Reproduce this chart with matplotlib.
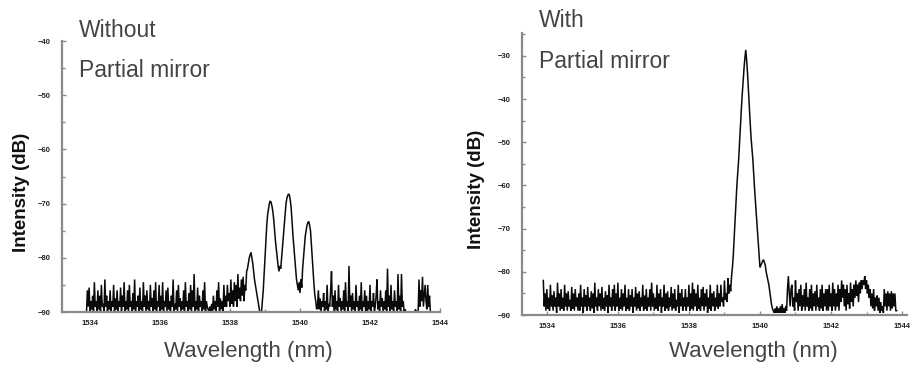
import numpy as np
import matplotlib
matplotlib.use("Agg")
import matplotlib.pyplot as plt
from matplotlib.ticker import MultipleLocator

plt.rcParams["font.family"] = ["Liberation Sans", "DejaVu Sans"]

# ---------------------------------------------------------------------------
# Data (0.025 nm sampling, one row = 1 nm)
# ---------------------------------------------------------------------------
WL_START = 1533.900
WL_STEP = 0.025

# without partial mirror
without_db = [
    -90, -86, -89, -85.5, -90, -88, -89.5, -87, -90, -84.5, -89, -88, -90, -86, -89.5, -87, -90, -85, -89, -88.5,
    -90, -84, -89, -87, -90, -88, -89.5, -86, -90, -88, -89, -85, -90, -87.5, -89.5, -86, -90, -88, -89, -85.5,
    -90, -87, -89, -84.5, -90, -88, -89.5, -86, -90, -85, -89, -88, -90, -86.5, -89.5, -84, -90, -88, -89, -87,
    -90, -85.5, -89.5, -88, -90, -84.5, -89, -87, -90, -86, -89.5, -88, -90, -85, -89, -87.5, -90, -86, -89.5, -84.5,
    -90, -88, -89, -85, -90, -87, -89.5, -84.5, -90, -88, -89, -86, -90, -85.5, -89.5, -88, -90, -87, -89, -84,
    -90, -88.5, -89.5, -86, -90, -85, -89, -87.5, -90, -88, -89.5, -86, -90, -84.5, -89, -88, -90, -86.5, -89.5, -85,
    -90, -86, -89, -83, -90, -88, -89.5, -85.5, -90, -87, -89, -88, -90, -86, -89.5, -84.5, -90, -88, -89, -89.5,
    -90, -89, -90, -88.5, -90, -87, -89.5, -88, -90, -86, -89, -84.5, -90, -87.5, -89.5, -88, -90, -85, -89, -87,
    -89, -85, -88, -86.5, -89, -84, -88.5, -86, -89, -84.5, -88, -85, -89, -83, -87.5, -85.5, -88, -84, -87, -83.5,
    -88, -85, -86, -82.5, -82, -81, -80, -79.5, -79, -80, -81, -82.5, -84, -85, -86, -87, -88, -89, -90, -90,
    -90, -88, -86, -83, -80, -77, -74, -72, -71, -70, -69.5, -69.8, -70.5, -71.5, -73, -75, -77, -78.5, -80, -81.5,
    -82.5, -81.5, -82, -80, -78, -76, -74, -72, -70, -69, -68.5, -68.2, -68.5, -69.5, -71, -73.5, -76, -78, -80, -82,
    -84, -85, -86, -84.5, -86.5, -84, -85.5, -82, -80, -78, -76, -75, -74, -73.5, -73.3, -74, -75, -77.5, -80, -82.5,
    -85, -87, -88, -89.5, -89, -86, -89.5, -87.5, -90, -88, -89, -86.5, -90, -88, -89.5, -85, -90, -88.5, -89, -86,
    -82.5, -89, -87, -90, -86, -89.5, -88, -90, -85, -89, -87.5, -90, -88, -89.5, -86, -90, -84.5, -89, -88, -90,
    -81.5, -89, -87, -90, -86.5, -89.5, -88, -90, -85, -89, -88, -90, -87, -89.5, -84.5, -90, -88, -89, -86, -90,
    -87, -90, -88, -89.5, -85, -90, -88, -89, -86.5, -90, -89, -87, -84, -89.5, -88, -90, -86, -89, -87.5, -90,
    -88, -89.5, -86, -90, -82, -89, -87, -90, -85, -89.5, -88, -90, -86, -89, -88, -90, -83, -89.5, -87, -90,
    -83, -89, -88, -90, -89.5, -90, -90, -90, -90, -90, -90, -90, -90, -90, -90, -90, -89.5, -90, -90, -90,
    -84, -89, -86, -88, -83.5, -89, -87, -85, -88, -89.5, -85, -89, -87, -90, -90,
]

# with partial mirror
with_db = [
    -82, -88, -85, -89, -84, -88.5, -86, -89, -83, -88, -85.5, -89, -84.5, -88, -86, -89.5, -82.5, -88, -85, -89,
    -84, -88.5, -86, -89, -83, -88, -85, -89, -84.5, -88, -86.5, -89, -83.5, -88.5, -85, -89, -84, -88, -86, -89,
    -85, -89, -83, -88, -86, -89.5, -84, -88, -85.5, -89, -83.5, -88, -86, -89, -84.5, -88.5, -85, -89.5, -82.5, -88,
    -86, -89, -84, -88, -85, -89, -83.5, -88.5, -86, -89, -84.5, -88, -85.5, -89.5, -83, -88, -86, -89, -84, -88,
    -83, -89, -85, -88, -82.5, -89, -86, -88.5, -84, -89, -85, -88, -83, -89, -86, -88.5, -84, -89, -85.5, -88,
    -84, -89.5, -86, -88, -83.5, -89, -85, -88.5, -84.5, -89, -86, -88, -83, -89, -85.5, -88.5, -84, -89, -86, -88,
    -84, -89, -82.5, -88, -85, -89, -86, -88.5, -83, -89, -85, -88, -84, -89.5, -86, -88, -83, -89, -85, -88.5,
    -84.5, -89, -86, -88, -83.5, -89, -85, -88.5, -84, -89, -86.5, -88, -83, -89.5, -85, -88, -84, -89, -86, -88,
    -84, -89, -86, -88, -83, -89, -85, -88.5, -82.5, -89, -84, -88, -85, -89, -83, -88.5, -86, -89, -84, -88,
    -83.5, -89, -85, -88, -84, -89.5, -86, -88.5, -83, -89, -85, -88, -84.5, -89, -86, -88, -83, -88.5, -85, -88,
    -83, -87, -86, -88, -82, -86.5, -85, -87, -81.5, -85, -83, -84.5, -81, -79, -76, -72, -68, -64, -60, -57,
    -54, -50, -46, -42.5, -39, -36, -33, -30.5, -28.6, -31, -34, -38, -42, -45.5, -49, -51.5, -54, -57.5, -61, -64,
    -67, -70, -73, -76, -79, -78.5, -78, -77.5, -77.2, -77.8, -78.5, -80, -81, -82, -83, -84.5, -86, -87.5, -88.5, -89,
    -89.5, -88.5, -89.5, -88, -89.5, -88.5, -89.5, -88, -89.5, -87.5, -89.5, -88.5, -89.5, -88, -89, -84, -81, -85, -88, -84,
    -83, -88, -86, -89, -82, -87, -85, -89, -84, -88, -83, -89, -85.5, -88, -84, -89, -82.5, -88, -86, -89,
    -84, -88.5, -83, -89, -85, -88, -84.5, -89, -83, -88, -86, -89, -84, -88.5, -83, -89, -85, -88, -84, -89,
    -84, -89, -83, -88, -85, -89, -82.5, -88, -84, -89, -85, -88, -83, -89, -84, -87, -82, -86, -83, -88,
    -84, -89, -83, -87.5, -85, -88.5, -82.5, -87, -84, -88, -83, -86, -82, -85.5, -83, -87, -82.5, -85, -82, -84,
    -82, -83, -81, -84, -82, -85, -83, -86, -84, -88, -85, -88.5, -84, -89, -86, -88, -85.5, -89, -86, -89.5,
    -87, -89, -88, -89.5, -84, -88, -85, -89, -84.5, -88, -85, -89, -84.5, -88.5, -85, -88, -85, -89, -89,
]

PANELS = [
    # label lines, data, ylim, xlim, axes rect (fig fraction)
    (["Without", "Partial mirror"], without_db, (-90, -40), (1533.2, 1544.0),
     [62 / 920, 55 / 367, 378 / 920, 271 / 367]),
    (["With", "Partial mirror"], with_db, (-90, -24.7), (1533.3, 1544.14),
     [522 / 920, 52 / 367, 385 / 920, 282 / 367]),
]

TEXT_GREY = "#444444"
SPINE_GREY = "#8a8a8a"

fig = plt.figure(figsize=(9.2, 3.67), dpi=100)

for i, (lines, db, ylim, xlim, rect) in enumerate(PANELS):
    ax = fig.add_axes(rect)
    wl = WL_START + WL_STEP * np.arange(len(db))
    ax.plot(wl, db, color="#0a0a0a", lw=1.1, solid_joinstyle="miter")

    ax.set_xlim(*xlim)
    ax.set_ylim(*ylim)
    ax.xaxis.set_major_locator(MultipleLocator(2))
    ax.xaxis.set_minor_locator(MultipleLocator(1))
    ax.yaxis.set_major_locator(MultipleLocator(10))
    ax.yaxis.set_minor_locator(MultipleLocator(5))

    for side in ("top", "right"):
        ax.spines[side].set_visible(False)
    for side in ("left", "bottom"):
        ax.spines[side].set_color(SPINE_GREY)
        ax.spines[side].set_linewidth(1.6)
        ax.spines[side].set_zorder(3)

    ax.tick_params(which="both", direction="in", color=SPINE_GREY, width=1.0)
    ax.tick_params(which="major", length=3)
    ax.tick_params(which="minor", length=2)
    ax.tick_params(axis="y", pad=8, labelsize=5.5, labelcolor="#222222")
    ax.tick_params(axis="x", pad=6, labelsize=5.5, labelcolor="#222222")
    for lab in ax.get_xticklabels() + ax.get_yticklabels():
        lab.set_fontweight("bold")

    # panel annotation
    x0 = rect[0] * 920 + 17
    ys = (37, 77) if i == 0 else (27, 68)
    for txt, yb in zip(lines, ys):
        fig.text(x0 / 920, 1 - yb / 367, txt, fontsize=16.5, color=TEXT_GREY,
                 ha="left", va="baseline")

    # axis labels
    ylx = 22 if i == 0 else 477
    yly = 192 if i == 0 else 189
    fig.text(ylx / 920, 1 - yly / 367, "Intensity (dB)", rotation=90,
             fontsize=13.5, fontweight="bold", color="#111111",
             ha="center", va="center")
    xlx = 248 if i == 0 else 753
    fig.text(xlx / 920, 1 - 351 / 367, "Wavelength (nm)", fontsize=16,
             color=TEXT_GREY, ha="center", va="center")

fig.savefig("out.png", dpi=100)
